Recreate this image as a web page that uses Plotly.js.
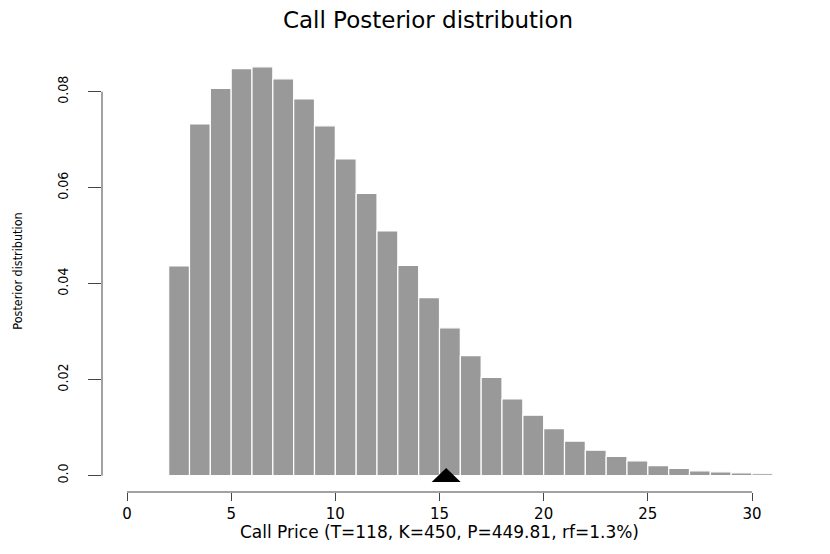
<!DOCTYPE html>
<html>
<head>
<meta charset="utf-8">
<script src="https://cdn.plot.ly/plotly-3.0.1.min.js"></script>
<style>
  html, body { margin: 0; padding: 0; background: #ffffff; }
  #plot { width: 830px; height: 554px; }
</style>
</head>
<body>
<div id="plot"></div>
<script>
"use strict";

// Histogram of posterior call prices: bins of width 1 starting at 2
const binLeft = [2, 3, 4, 5, 6, 7, 8, 9, 10, 11, 12, 13, 14, 15, 16,
                 17, 18, 19, 20, 21, 22, 23, 24, 25, 26, 27, 28, 29, 30];
const density = [0.0437, 0.0733, 0.0807, 0.0848, 0.0852, 0.0827, 0.0785, 0.0729,
                 0.0660, 0.0588, 0.0510, 0.0438, 0.0371, 0.0308, 0.0250, 0.0205,
                 0.0160, 0.0126, 0.0098, 0.0072, 0.0053, 0.0040, 0.0031, 0.0021,
                 0.0015, 0.0010, 0.0008, 0.0006, 0.0004];
const binWidth = 1;

// observed market price, drawn as the triangle on the baseline
const marketPrice = 15.32;

const xTicks = [0, 5, 10, 15, 20, 25, 30];
const yTicks = [0, 0.02, 0.04, 0.06, 0.08];
const yTickText = ["0.0", "0.02", "0.04", "0.06", "0.08"];

const WIDE = "DejaVu Sans, Verdana, sans-serif";
const NARROW = "Liberation Sans Narrow, DejaVu Sans Condensed, Arial Narrow, Liberation Sans, sans-serif";
const AXIS = "#444444";

const traces = [{
    type: "bar",
    x: binLeft,
    y: density,
    width: binLeft.map(() => binWidth),
    offset: 0,
    marker: { color: "#999999", line: { color: "#ffffff", width: 1.2 } },
    hoverinfo: "x+y",
}];

const layout = {
    width: 830, height: 554,
    margin: { t: 50, r: 53, b: 62, l: 102 },
    paper_bgcolor: "#ffffff", plot_bgcolor: "#ffffff",
    showlegend: false,
    bargap: 0,
    title: {
        text: "Call Posterior distribution",
        font: { family: WIDE, size: 23, color: "#000000" },
        xref: "paper", x: 0.483, xanchor: "center",
        yref: "container", y: 0.964, yanchor: "middle",
    },
    xaxis: {
        range: [-1.2, 31.2],
        tickvals: xTicks,
        ticks: "outside", ticklen: 7.5, tickwidth: 1, tickcolor: AXIS,
        showline: false, showgrid: false, zeroline: false,
        tickfont: { family: WIDE, size: 15, color: "#000000" },
        title: {
            text: "Call Price (T=118, K=450, P=449.81, rf=1.3%)",
            font: { family: WIDE, size: 17, color: "#000000" },
            standoff: 4,
        },
    },
    yaxis: {
        range: [-0.0034, 0.0887],
        tickvals: yTicks, ticktext: yTickText,
        ticks: "outside", ticklen: 13, tickwidth: 1, tickcolor: AXIS,
        tickangle: -90,
        ticklabelstandoff: 14,
        showline: false, showgrid: false, zeroline: false,
        tickfont: { family: NARROW, size: 14, color: "#000000" },
        title: {
            text: "Posterior distribution",
            font: { family: NARROW, size: 12.5, color: "#000000" },
            standoff: 30,
        },
    },
    shapes: [
        // R-style axis lines running only between the outer ticks
        { type: "line", xref: "x", yref: "paper",
          x0: xTicks[0], x1: xTicks[xTicks.length - 1], y0: 0, y1: 0,
          line: { color: AXIS, width: 1 } },
        { type: "line", xref: "paper", yref: "y",
          x0: 0, x1: 0, y0: yTicks[0], y1: yTicks[yTicks.length - 1],
          line: { color: AXIS, width: 1 } },
        // filled triangle marking the market price
        { type: "path", xref: "x", yref: "y",
          xsizemode: "pixel", ysizemode: "pixel",
          xanchor: marketPrice, yanchor: 0,
          path: "M-14.5,-6.3 L14.5,-6.3 L0,7.7 Z",
          fillcolor: "#000000", line: { width: 0 } },
    ],
};

Plotly.newPlot("plot", traces, layout, { displayModeBar: false, staticPlot: true });
</script>
</body>
</html>
